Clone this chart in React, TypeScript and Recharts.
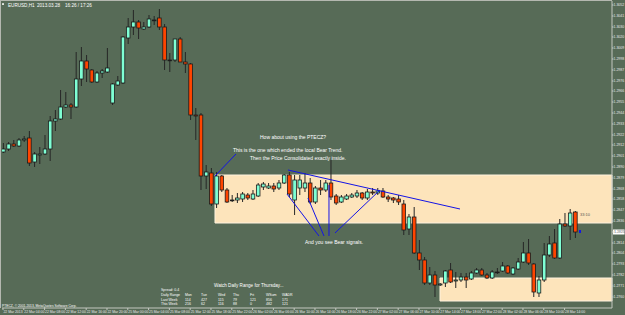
import { ComposedChart, Bar, XAxis, YAxis, ReferenceArea, ReferenceLine } from "recharts";

// EURUSD H1, 22 Mar - 28 Mar 2013
const opens = [
  1.2905, 1.2908, 1.2913, 1.2911, 1.2917, 1.2919, 1.2895, 1.2902, 1.2903, 1.2908,
  1.2936, 1.2938, 1.295, 1.2952, 1.295, 1.2978, 1.2996, 1.2987, 1.2975, 1.2984,
  1.2985, 1.2954, 1.2972, 1.2974, 1.3019, 1.303, 1.3035, 1.3028, 1.303, 1.3037,
  1.3039, 1.303, 1.2997, 1.2997, 1.3018, 1.2995, 1.2993, 1.2942, 1.2942, 1.2881,
  1.2884, 1.2853, 1.2881, 1.2867, 1.2857, 1.2857, 1.2858, 1.2862, 1.2858, 1.2861,
  1.287, 1.2869, 1.2871, 1.2869, 1.2874, 1.2882, 1.2857, 1.2869, 1.2869, 1.2874,
  1.2855, 1.2869, 1.2867, 1.2874, 1.2861, 1.2855, 1.2858, 1.286, 1.2861, 1.2864,
  1.2859, 1.2865, 1.2864, 1.2866, 1.286, 1.2859, 1.2858, 1.2853, 1.2828, 1.284,
  1.2804, 1.2797, 1.2774, 1.2782, 1.2772, 1.2774, 1.2787, 1.2776, 1.2777, 1.278,
  1.2778, 1.2784, 1.2787, 1.2782, 1.2779, 1.2785, 1.2786, 1.2791, 1.2783, 1.2788,
  1.2795, 1.2804, 1.2793, 1.2764, 1.2777, 1.2802, 1.2814, 1.2799, 1.2833, 1.2831,
  1.2845,
];
const highs = [
  1.2914, 1.2915, 1.2917, 1.2919, 1.2921, 1.2926, 1.2905, 1.291, 1.2922, 1.2941,
  1.2947, 1.2967, 1.2965, 1.2954, 1.3005, 1.301, 1.3002, 1.2988, 1.2986, 1.2988,
  1.3009, 1.2974, 1.2981, 1.3021, 1.3039, 1.3047, 1.3037, 1.3035, 1.3042, 1.3041,
  1.3048, 1.3033, 1.3004, 1.3018, 1.302, 1.3005, 1.2994, 1.2949, 1.2944, 1.2892,
  1.2889, 1.2885, 1.2882, 1.2869, 1.2862, 1.2864, 1.2865, 1.2864, 1.2867, 1.2874,
  1.2875, 1.2874, 1.2874, 1.2877, 1.2883, 1.2885, 1.2882, 1.2882, 1.2884, 1.2879,
  1.2871, 1.2877, 1.2877, 1.2897, 1.2863, 1.2862, 1.2863, 1.2864, 1.2867, 1.2865,
  1.2868, 1.2869, 1.2869, 1.2869, 1.2862, 1.286, 1.2862, 1.2857, 1.2843, 1.285,
  1.2817, 1.28, 1.279, 1.2786, 1.2774, 1.2787, 1.2794, 1.2785, 1.2784, 1.2784,
  1.2786, 1.2789, 1.2789, 1.2784, 1.2787, 1.2789, 1.2795, 1.2792, 1.279, 1.2799,
  1.2815, 1.2818, 1.2794, 1.2781, 1.2814, 1.2821, 1.2828, 1.2838, 1.2844, 1.2848,
  1.2846,
];
const lows = [
  1.2904, 1.2906, 1.291, 1.291, 1.2915, 1.2891, 1.289, 1.2893, 1.2902, 1.2896,
  1.2926, 1.2937, 1.2949, 1.2938, 1.2949, 1.2971, 1.2975, 1.2974, 1.2974, 1.2979,
  1.2984, 1.2952, 1.2971, 1.2973, 1.3013, 1.3022, 1.3018, 1.3027, 1.3029, 1.3032,
  1.3027, 1.2987, 1.2985, 1.2995, 1.2995, 1.2984, 1.2937, 1.2917, 1.2867, 1.2868,
  1.2851, 1.2849, 1.2865, 1.2854, 1.2855, 1.2854, 1.2855, 1.2857, 1.2857, 1.286,
  1.2867, 1.2868, 1.2865, 1.2867, 1.2873, 1.286, 1.2842, 1.2862, 1.2865, 1.2853,
  1.2853, 1.2862, 1.2865, 1.2857, 1.2852, 1.2854, 1.2857, 1.2859, 1.2859, 1.2857,
  1.2857, 1.2862, 1.2862, 1.2859, 1.2855, 1.2854, 1.2852, 1.2822, 1.2822, 1.2803,
  1.2787, 1.2772, 1.2772, 1.276, 1.2771, 1.277, 1.2774, 1.2769, 1.2775, 1.2769,
  1.2777, 1.2783, 1.2781, 1.2778, 1.2778, 1.2783, 1.2785, 1.2783, 1.2782, 1.2787,
  1.2794, 1.2792, 1.276, 1.276, 1.2775, 1.28, 1.2798, 1.2798, 1.283, 1.2817,
  1.2819,
];
const closes = [
  1.2908, 1.2913, 1.2911, 1.2917, 1.2918, 1.2894, 1.2903, 1.2903, 1.2908, 1.2936,
  1.2938, 1.295, 1.2952, 1.295, 1.2978, 1.2996, 1.2988, 1.2975, 1.2984, 1.2986,
  1.2989, 1.2973, 1.2976, 1.302, 1.303, 1.3035, 1.3029, 1.303, 1.3038, 1.3037,
  1.303, 1.2997, 1.2997, 1.3018, 1.2995, 1.2993, 1.2942, 1.2941, 1.2881, 1.2885,
  1.2853, 1.2881, 1.2867, 1.2855, 1.2857, 1.2859, 1.2863, 1.2859, 1.2863, 1.2872,
  1.2873, 1.2871, 1.2868, 1.2874, 1.2882, 1.2863, 1.2877, 1.2877, 1.2874, 1.2855,
  1.2869, 1.2867, 1.2874, 1.286, 1.2854, 1.286, 1.2861, 1.2862, 1.2864, 1.2859,
  1.2865, 1.2864, 1.2866, 1.286, 1.2858, 1.2857, 1.2855, 1.2827, 1.284, 1.2804,
  1.2797, 1.2774, 1.2782, 1.2772, 1.2773, 1.2786, 1.2775, 1.2777, 1.278, 1.2777,
  1.2784, 1.2787, 1.2782, 1.2779, 1.2785, 1.2785, 1.2791, 1.2784, 1.2789, 1.2795,
  1.2804, 1.2794, 1.2765, 1.2777, 1.2802, 1.2813, 1.2799, 1.2833, 1.2831, 1.2844,
  1.2825,
];

// time axis: one label every 4 bars
const timeTicks = [0, 4, 8, 12, 16, 20, 24, 28, 32, 36, 40, 44, 48, 52, 56, 60, 64, 68, 72, 76, 80, 84, 88, 92, 96, 100, 104, 108];
const timeLabels = [
  "22 Mar 2013", "22 Mar 04:00", "22 Mar 08:00", "22 Mar 12:00", "22 Mar 16:00", "22 Mar 20:00",
  "25 Mar 00:00", "25 Mar 04:00", "25 Mar 08:00", "25 Mar 12:00", "25 Mar 18:00", "25 Mar 22:00",
  "26 Mar 02:00", "26 Mar 06:00", "26 Mar 10:00", "26 Mar 14:00", "26 Mar 18:00", "26 Mar 22:00",
  "27 Mar 02:00", "27 Mar 06:00", "27 Mar 10:00", "27 Mar 14:00", "27 Mar 18:00", "27 Mar 22:00",
  "28 Mar 02:00", "28 Mar 06:00", "28 Mar 10:00", "28 Mar 14:00",
];
const priceTicks = [
  1.3052, 1.3041, 1.303, 1.302, 1.3009, 1.2998, 1.2987, 1.2976, 1.2966, 1.2955,
  1.2944, 1.2933, 1.2922, 1.2912, 1.2901, 1.289, 1.2879, 1.2868, 1.2858, 1.2847,
  1.2836, 1.2825, 1.2814, 1.2804, 1.2793, 1.2782, 1.2771, 1.276,
];

// supply / demand zones  [x1, x2, yTop, yBottom]
const upperZone = [40.77, 117.12, 1.2882, 1.2834];
const lowerZone = [84.04, 117.12, 1.2779, 1.2756];
// hand drawn blue lines  [x1, y1, x2, y2]
const trendLine = [54.81, 1.2887, 87.89, 1.2848];
const arrowLines = [
  [44.81, 1.2903, 40.77, 1.2881],
  [54.62, 1.2863, 60.77, 1.2821],
  [58.65, 1.2859, 61.73, 1.2821],
  [62.69, 1.2872, 62.69, 1.2821],
  [72.5, 1.2867, 63.85, 1.2824],
];

const rangeCols = ["Mon", "Tue", "Wed", "Thu", "Fri", "WSum", "WADR"];
const lastWeek = ["114", "427", "115", "79", "121", "856", "171"];
const thisWeek = ["216", "62", "116", "88", "0", "482", "121"];
const colX = [185, 201, 218, 233, 250, 266, 282];

const data = opens.map((o, i) => ({ i, open: o, high: highs[i], low: lows[i], close: closes[i] }));

const BG = "#576b57";
const FONT = "'Liberation Sans', Arial, sans-serif";

const Candle = (props: any) => {
  const { x, y, width, height, payload } = props;
  if (!payload) return null;
  let top = y;
  let h = height;
  if (h < 0) {
    top = y + h;
    h = -h;
  }
  const { open, close, high, low } = payload;
  const k = high - low > 0 ? h / (high - low) : 0;
  const yo = top + (high - open) * k;
  const yc = top + (high - close) * k;
  const cx = x + width / 2;
  const bTop = Math.min(yo, yc);
  const bH = Math.max(Math.abs(yc - yo), 0.8);
  const fill = close === open ? "#262626" : close > open ? "#7fffd4" : "#ff4500";
  return (
    <g>
      <line x1={cx} x2={cx} y1={top} y2={top + h} stroke="#262626" strokeWidth={1} />
      <rect x={cx - 1.8} y={bTop} width={3.6} height={bH} fill={fill} stroke="#1c1c1c" strokeWidth={0.8} />
    </g>
  );
};

const TimeTick = (p: any) => {
  const idx = timeTicks.indexOf(p.payload.value);
  return (
    <text x={p.x + 0.5} y={p.y + 3.4} fontSize={3.4} fill="#e8e8e8" fontFamily={FONT}>
      {timeLabels[idx]}
    </text>
  );
};

const PriceTick = (p: any) => (
  <text x={p.x} y={p.y + 1.3} fontSize={3.5} fill="#e8e8e8" fontFamily={FONT}>
    {Number(p.payload.value).toFixed(4)}
  </text>
);

const PriceLabel = (p: any) => {
  const vb = p.viewBox;
  if (!vb) return null;
  const x0 = vb.x + vb.width;
  return (
    <g>
      <rect x={x0 + 1} y={vb.y - 2.5} width={11.5} height={5} fill="#ffffff" />
      <text x={x0 + 2} y={vb.y + 1.3} fontSize={3.5} fill="#222" fontFamily={FONT}>
        {closes[closes.length - 1].toFixed(4)}
      </text>
    </g>
  );
};

const txt = (x: number, y: number, s: string, size = 5, fill = "#ffffff") => (
  <text key={`${x}-${y}-${s}`} x={x} y={y} fontSize={size} fill={fill} fontFamily={FONT}>
    {s}
  </text>
);

export default function App() {
  return (
    <div style={{ position: "absolute", left: 0, top: 0, width: 625, height: 315, background: BG, overflow: "hidden" }}>
      <ComposedChart width={625} height={315} data={data} margin={{ top: 1, right: 0, bottom: 0, left: 2 }}>
        <XAxis
          dataKey="i"
          type="number"
          domain={[-0.19, 117.12]}
          allowDataOverflow
          ticks={timeTicks}
          interval={0}
          height={7}
          tickSize={2}
          tickMargin={0}
          stroke="#c4c8c0"
          tick={<TimeTick />}
        />
        <YAxis
          orientation="right"
          type="number"
          domain={[1.2749, 1.3056]}
          allowDataOverflow
          ticks={priceTicks}
          interval={0}
          width={13}
          tickSize={1.5}
          tickMargin={0}
          stroke="#c4c8c0"
          tick={<PriceTick />}
        />
        <ReferenceArea
          x1={upperZone[0]}
          x2={upperZone[1]}
          y1={upperZone[2]}
          y2={upperZone[3]}
          fill="#fde4bb"
          fillOpacity={1}
          stroke="#fff3df"
          strokeWidth={1}
        />
        <ReferenceArea
          x1={lowerZone[0]}
          x2={lowerZone[1]}
          y1={lowerZone[2]}
          y2={lowerZone[3]}
          fill="#fde4bb"
          fillOpacity={1}
          stroke="#fff3df"
          strokeWidth={1}
        />
        <Bar dataKey={(d: any) => [d.low, d.high]} barSize={4} shape={<Candle />} isAnimationActive={false} />
        <ReferenceLine
          segment={[{ x: trendLine[0], y: trendLine[1] }, { x: trendLine[2], y: trendLine[3] }]}
          stroke="#1414e6"
          strokeWidth={1}
        />
        {arrowLines.map((l, k) => (
          <ReferenceLine
            key={k}
            segment={[{ x: l[0], y: l[1] }, { x: l[2], y: l[3] }]}
            stroke="#1414e6"
            strokeWidth={1}
          />
        ))}
        <ReferenceLine y={closes[closes.length - 1]} stroke="none" label={<PriceLabel />} />
      </ComposedChart>
      <svg width={625} height={315} style={{ position: "absolute", left: 0, top: 0, pointerEvents: "none" }}>
        <line x1={0} x2={612} y1={0.5} y2={0.5} stroke="#b4b8b0" />
        <line x1={0.5} x2={0.5} y1={0} y2={308} stroke="#b4b8b0" />
        <rect x={2} y={3.3} width={2} height={1.5} fill="#ffffff" />
        {txt(8, 6.6, "EURUSD,H1", 4.6)}
        {txt(37, 6.6, "2013.03.28", 4.6)}
        {txt(65, 6.6, "16:26 / 17:26", 4.6)}
        {txt(260, 139, "How about using the PTECZ?", 5)}
        {txt(233, 152, "This is the one which ended the local Bear Trend.", 5)}
        {txt(250, 160, "Then the Price Consolidated exactly inside.", 5)}
        {txt(305, 244, "And you see  Bear signals.", 5)}
        {txt(214, 287, "Watch Daily Range for Thursday...", 4.6)}
        {txt(161, 290.5, "Spread: 0.4", 3.5)}
        {txt(161, 296.2, "Daily Range", 3.5)}
        {txt(161, 300.5, "Last Week", 3.5)}
        {txt(161, 305, "This Week", 3.5)}
        {rangeCols.map((c, k) => txt(colX[k], 296.2, c, 3.5))}
        {lastWeek.map((c, k) => txt(colX[k], 300.5, c, 3.5))}
        {thisWeek.map((c, k) => txt(colX[k], 305, c, 3.5))}
        {txt(2, 307, "PTECZ, \u00a9 2001-2013, MetaQuotes Software Corp.", 3.3)}
        {txt(580, 215.5, "33:10", 4, "#555555")}
        <rect x={579} y={230} width={2} height={3} fill="#1414e6" />
      </svg>
    </div>
  );
}
